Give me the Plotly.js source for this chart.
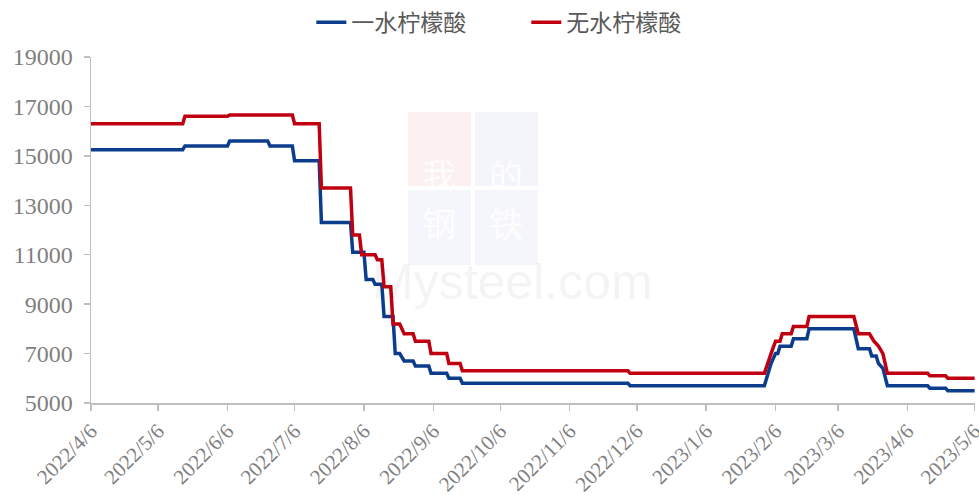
<!DOCTYPE html>
<html>
<head>
<meta charset="utf-8">
<script src="https://cdn.plot.ly/plotly-3.0.1.min.js"></script>
<style>html,body{margin:0;padding:0;background:#fff;}#chart{width:979px;height:495px;}</style>
</head>
<body>
<div id="chart"></div>
<script>
// 一水柠檬酸 (monohydrate citric acid)
const blueName = "一水柠檬酸";
const blueDates = ["2022-04-06","2022-05-17","2022-05-18","2022-06-06","2022-06-07","2022-06-24","2022-06-25","2022-07-05","2022-07-06","2022-07-17","2022-07-18","2022-07-31","2022-08-01","2022-08-06","2022-08-07","2022-08-10","2022-08-11","2022-08-14","2022-08-15","2022-08-19","2022-08-20","2022-08-22","2022-08-24","2022-08-28","2022-08-29","2022-09-04","2022-09-05","2022-09-12","2022-09-13","2022-09-18","2022-09-19","2022-12-02","2022-12-03","2023-02-01","2023-02-03","2023-02-04","2023-02-06","2023-02-07","2023-02-08","2023-02-13","2023-02-14","2023-02-20","2023-02-21","2023-03-13","2023-03-15","2023-03-20","2023-03-21","2023-03-23","2023-03-24","2023-03-26","2023-03-28","2023-04-15","2023-04-16","2023-04-23","2023-04-24","2023-05-06"];
const blueValues = [15250,15250,15400,15400,15600,15600,15400,15400,14800,14800,12300,12300,11100,11100,10000,10000,9800,9800,8500,8500,7000,7000,6700,6700,6500,6500,6200,6200,6000,6000,5800,5800,5700,5700,6300,6600,7000,7000,7300,7300,7600,7600,8000,8000,7200,7200,6900,6900,6600,6400,5700,5700,5600,5600,5500,5500];

// 无水柠檬酸 (anhydrous citric acid)
const redName = "无水柠檬酸";
const redDates = ["2022-04-06","2022-05-17","2022-05-18","2022-06-06","2022-06-07","2022-07-05","2022-07-06","2022-07-17","2022-07-18","2022-07-31","2022-08-01","2022-08-04","2022-08-05","2022-08-11","2022-08-12","2022-08-14","2022-08-15","2022-08-18","2022-08-19","2022-08-22","2022-08-24","2022-08-28","2022-08-29","2022-09-04","2022-09-05","2022-09-12","2022-09-13","2022-09-18","2022-09-19","2022-12-02","2022-12-03","2023-02-01","2023-02-04","2023-02-06","2023-02-08","2023-02-09","2023-02-13","2023-02-14","2023-02-20","2023-02-21","2023-03-13","2023-03-15","2023-03-20","2023-03-22","2023-03-24","2023-03-26","2023-03-28","2023-04-15","2023-04-16","2023-04-23","2023-04-24","2023-05-06"];
const redValues = [16300,16300,16600,16600,16650,16650,16300,16300,13700,13700,11800,11800,11000,11000,10800,10800,9700,9700,8200,8200,7800,7800,7500,7500,7000,7000,6600,6600,6300,6300,6200,6200,7000,7500,7500,7800,7800,8100,8100,8500,8500,7800,7800,7500,7300,7000,6200,6200,6100,6100,6000,6000];

// x-axis tick labels
const tickDates = ["2022-04-06","2022-05-06","2022-06-06","2022-07-06","2022-08-06","2022-09-06","2022-10-06","2022-11-06","2022-12-06","2023-01-06","2023-02-06","2023-03-06","2023-04-06","2023-05-06"];
const tickLabels = ["2022/4/6","2022/5/6","2022/6/6","2022/7/6","2022/8/6","2022/9/6","2022/10/6","2022/11/6","2022/12/6","2023/1/6","2023/2/6","2023/3/6","2023/4/6","2023/5/6"];

const textColor = "#7f7f7f";
const axisColor = "#bfbfbf";
const serif = "Liberation Serif, Times New Roman, serif";
const cjk = "Liberation Serif, Noto Sans CJK SC, serif";

const traces = [
  {x: blueDates, y: blueValues, name: blueName, type: "scatter", mode: "lines",
   line: {color: "#0b3d8c", width: 3.5}},
  {x: redDates, y: redValues, name: redName, type: "scatter", mode: "lines",
   line: {color: "#c00010", width: 3.5}}
];

function px2x(p){ return (p - 91) / 884; }
function px2y(p){ return (403 - p) / 346; }

const wmShapes = [
  {x0: 408, x1: 471, y0: 112, y1: 186, c: "rgba(220,90,90,0.09)"},
  {x0: 475, x1: 538, y0: 112, y1: 186, c: "rgba(90,110,180,0.07)"},
  {x0: 408, x1: 471, y0: 190, y1: 265, c: "rgba(90,110,180,0.06)"},
  {x0: 475, x1: 538, y0: 190, y1: 265, c: "rgba(90,110,180,0.06)"}
].map(b => ({type: "rect", xref: "paper", yref: "paper", layer: "below",
  x0: px2x(b.x0), x1: px2x(b.x1), y0: px2y(b.y1), y1: px2y(b.y0),
  fillcolor: b.c, line: {width: 0}}));

const wmChars = ["我","的","钢","铁"];
const wmPos = [[439,147],[506,147],[439,222],[506,222]];
const wmAnn = wmChars.map((ch, i) => ({text: ch, xref: "paper", yref: "paper",
  x: px2x(wmPos[i][0]), y: px2y(wmPos[i][1]), showarrow: false,
  font: {family: "Noto Sans CJK SC", size: 34, color: "rgba(255,255,255,0.85)"}}));
wmAnn.push({text: "Mysteel.com", xref: "paper", yref: "paper",
  x: px2x(512), y: px2y(312), showarrow: false,
  font: {family: "Liberation Sans, Arial", size: 50, color: "rgba(0,0,0,0.045)"}});

const layout = {
  width: 979, height: 495,
  margin: {l: 91, r: 4, t: 57, b: 92, autoexpand: false},
  paper_bgcolor: "#ffffff", plot_bgcolor: "#ffffff",
  showlegend: true,
  legend: {orientation: "h", xref: "container", yref: "container",
    x: 0.318, xanchor: "left", y: 0.955, yanchor: "middle",
    entrywidth: 170, entrywidthmode: "pixels",
    font: {family: cjk, size: 23, color: "#595959"}, traceorder: "normal"},
  xaxis: {type: "date", range: ["2022-04-06", "2023-05-06 04:00"], automargin: false,
    tickmode: "array", tickvals: tickDates, ticktext: tickLabels, tickangle: -45,
    ticklabeloverflow: "allow",
    showgrid: false, zeroline: false, showline: true, linecolor: axisColor, linewidth: 1.5,
    ticks: "outside", ticklen: 6, tickcolor: axisColor, tickwidth: 1.5,
    tickfont: {family: serif, size: 21, color: textColor}},
  yaxis: {range: [5000, 19000], tickmode: "linear", tick0: 5000, dtick: 2000, tickformat: "d",
    automargin: false, ticklabelstandoff: 6,
    showgrid: false, zeroline: false, showline: true, linecolor: axisColor, linewidth: 1.5,
    ticks: "outside", ticklen: 6, tickcolor: axisColor, tickwidth: 1.5,
    tickfont: {family: serif, size: 24, color: textColor}},
  shapes: wmShapes,
  annotations: wmAnn
};

Plotly.newPlot("chart", traces, layout, {displayModeBar: false, staticPlot: true});
</script>
</body>
</html>
